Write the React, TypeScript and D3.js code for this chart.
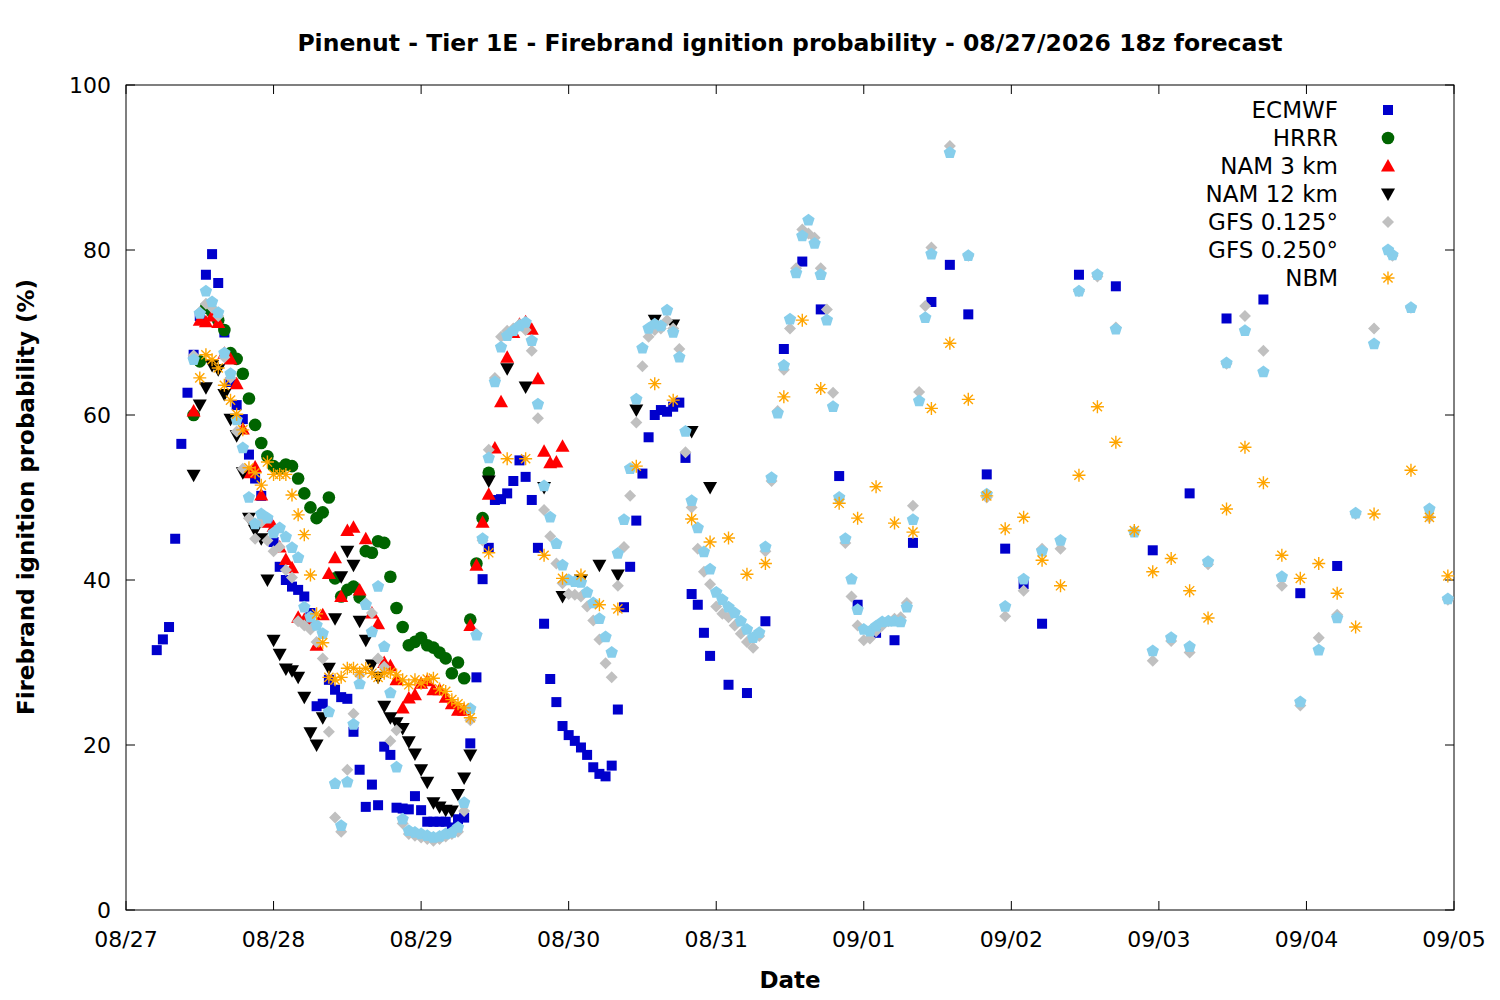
import React from "react";
import * as d3 from "d3";

// hours since 08/27 00z
const dayLabels = ["08/27","08/28","08/29","08/30","08/31","09/01","09/02","09/03","09/04","09/05"];
const yTicks = [0,20,40,60,80,100];

const ecmwfHourly = [31.5,32.8,34.3,45,56.5,62.7,67.3,72,77,79.5,76,70,64,61.2,59.5,55.2,52.3,50.2,47,44.6,41.6,40,39.2,38.8,38,36,24.7,25,27.9,26.7,25.8,25.6,21.6,17,12.5,15.2,12.7,19.8,18.8,12.4,12.3,12.2,13.8,12.1,10.7,10.7,10.7,10.7,10,11,11.2,20.2,28.2,40.1,43.9,49.7,49.8,50.5,52,54.5,52.5,49.7,43.9,34.7,28,25.2,22.3,21.2,20.5,19.7,18.8,17.3,16.5,16.2,17.5,24.3,36.7,41.6,47.2,52.9,57.3,60,60.6,60.4,61,61.5,54.8,38.3,37,33.6,30.8];
const ecmwf3h = [27.3,26.3,35,68,78.6,72.8,52.6,37,33.6,32.7,44.5,73.7,78.2,72.2,52.8,43.8,39.5,34.7];
const ecmwf6h = [77,75.6,43.6,50.5,71.7,74,38.4,41.7];

const hrrrHourly = [60,66.5,73,72.5,71.5,70.3,67.5,66.8,65,62,58.8,56.6,55,53.8,53.5,54,53.8,52.3,50.5,48.8,47.5,48.2,50,40.2,38,38.8,39.2,37.9,43.5,43.3,44.7,44.5,40.4,36.6,34.3,32.1,32.5,33,32.1,31.8,31.2,30.5,28.7,30,28.1,35.2,42,47.5,53];

const nam3Hourly = [60.5,71.5,71.3,72,71.2,67.5,66.8,63.8,58.3,53,53.7,50.3,47,46.5,44,42.5,41.5,35.5,35.2,34.6,32.1,35.8,40.8,42.7,38,46,46.4,38.8,45,36,34.7,30,29.6,27.9,24.5,25.7,26.1,27.5,27.8,26.7,26.7,25.8,25,24.2,24.2,34.5,41.8,47,50.4,56,61.6,67,70,71,71.3,70.4,64.4,55.6,54.2,54.3,56.2];

const nam12Hourly = [52.7,61.2,63.3,66,65.5,62.5,59.5,57.5,53,47.5,46,45,40,32.7,31,29.2,29,28.2,25.8,21.5,20,23.3,29.3,35.3,40.4,43.5,41.8,35,32.7,29.7,28.2,24.7,23.3,22.7,22,20.4,18.9,17,15.5,13,12.5,12.1,12,14,16,18.8];
const nam12_3h = [52,65.6,63.4,51.2,38,40,41.8,40.6,60.6,71.5,70.9,58,51.2];

const gfs125Hourly = [67.2,72.5,73.5,73,72,67,64.5,58,53.5,47.5,45,47,44.8,43.5,44,41.2,40.3,35,34.5,34,32.5,30.5,21.6,11.2,9.5,17,23.8,28.5,37.2,36,30.5,29.5,20.5,21.8,10.5,9.2,9,8.8,8.6,8.4,8.6,8.9,9.2,9.5,12,23,33.5,44.8,55.8,64.5,69.5,70.2,70.5,71,70.3,67.8,59.6,48.5,45.3,42,39.6,38.3,38.2,38,36.8,35.1,32.8,29.9,28.2,39.3,44,50.2,59.1,65.9,69.5,70.3,70.5,71.5,70.5,68,55.5,48.8,43.8,41,39.5,36.8,35.9,35.5,34.5,33.5,32.5,31.8,33.2,43.5,52,60.5,65.5,70.5,77.8,82.5,82,81.5,77.8,72.8,62.7,49.8,44.5,38,34.5,32.7,32.9,33.8,34.5,35,35.3,35.5,37.2,49,62.8,73.2];
const gfs125_3h = [80.3,92.6,79.3,50,35.6,38.7,43.8,43.8,75,76.8,70.6,45.9,30.2,32.6,31.2,41.9,66.2,72,67.8,39.3,24.8,33,35.8,48,70.5,79.3,73,47.6,37.6];

const gfs250Hourly = [66.7,72.3,75,73.7,72.4,67.5,65,59.4,56,50,46.8,48,47.5,45.7,46.3,45.2,43.9,42.7,36.7,35.5,34.5,33.5,24,15.3,10.2,15.5,22.5,27.4,37,33.7,39.2,31.9,26.3,17.3,11,9.6,9.4,9.2,9,8.8,8.9,9.2,9.4,10,13,24.4,33.3,45,54.8,64,68.2,69.6,70.2,70.8,71.2,69,61.3,51.4,47.6,44.4,41.8,40,39.8,39.7,38.5,37.2,35.3,33.1,31.2,43.2,47.3,53.5,61.9,68.1,70.5,71,70.8,72.7,70,67,58,49.6,46.3,43.4,41.3,38.5,37.6,36.7,36,35,34,33,33.6,44,52.4,60.2,66,71.6,77.2,81.7,83.6,80.8,77,71.5,61,50,45,40.1,36.4,34,33.8,34.4,34.9,35,35,34.9,36.7,47.3,61.7,71.8];
const gfs250_3h = [79.5,91.8,79.3,50.4,36.8,40.1,43.5,44.8,75,77,70.4,45.8,31.4,33,31.9,42.2,66.3,70.2,65.2,40.4,25.2,31.5,35.4,48.1,68.6,79.4,73,48.6,37.7];

const nbmHourly = [64.5,67.3,66.7,65.7,63.6,61.8,60.1,58.2,53.6,53,51.5,54.3,52.8,52.8,52.8,50.3,47.9,45.5,40.6,35.9,32.4,28.2,27.9,28.2,29.3,29.3,28.8,29.3,28.7,28.2,28.7,28.8,28.5,27.9,27.3,27.9,27.5,28,28.1,26.8,26.5,25.5,25,24.5,23.3];
const nbm3h = [43.3,54.7,54.7,43,40.2,40.6,37,36.5,53.8,63.8,61.8,47.4,44.6,45.1,40.7,42,62.2,71.5,63.2,49.3,47.5,51.3,46.9,45.8,60.8,68.7,61.9,50.2,46.2,47.6,42.4,39.3,52.7,61,56.7,46,41,42.6,38.7,35.4,48.6,56.1,51.8,43,40.2,42,38.4,34.3,48];
const nbm3hLate = [53.3,47.6,40.5];

type Seg = { start: number; step: number; values: number[] };
const pts = (segs: Seg[]) =>
  segs.flatMap(s => s.values.map((v, i) => ({ h: s.start + i * s.step, v })));

const series = [
  { name: "ECMWF", color: "#0000cc", shape: "square", data: pts([{ start: 5, step: 1, values: ecmwfHourly }, { start: 98, step: 3, values: ecmwf3h }, { start: 155, step: 6, values: ecmwf6h }]) },
  { name: "HRRR", color: "#006400", shape: "circle", data: pts([{ start: 11, step: 1, values: hrrrHourly }]) },
  { name: "NAM 3 km", color: "#ff0000", shape: "up", data: pts([{ start: 11, step: 1, values: nam3Hourly }]) },
  { name: "NAM 12 km", color: "#000000", shape: "down", data: pts([{ start: 11, step: 1, values: nam12Hourly }, { start: 59, step: 3, values: nam12_3h }]) },
  { name: "GFS 0.125°", color: "#c0c0c0", shape: "diamond", data: pts([{ start: 11, step: 1, values: gfs125Hourly }, { start: 131, step: 3, values: gfs125_3h }]) },
  { name: "GFS 0.250°", color: "#87ceeb", shape: "pentagon", data: pts([{ start: 11, step: 1, values: gfs250Hourly }, { start: 131, step: 3, values: gfs250_3h }]) },
  { name: "NBM", color: "#ffa500", shape: "star", data: pts([{ start: 12, step: 1, values: nbmHourly }, { start: 59, step: 3, values: nbm3h }, { start: 209, step: 3, values: nbm3hLate }]) },
];

const W = 1500, H = 1000;
const M = { l: 126, r: 1454, t: 85, b: 910 };

function Marker({ shape, color, x, y }: { shape: string; color: string; x: number; y: number }) {
  switch (shape) {
    case "square": return <rect x={x - 5} y={y - 5} width={10} height={10} fill={color} />;
    case "circle": return <circle cx={x} cy={y} r={6.3} fill={color} />;
    case "up": return <path d={`M${x},${y - 7}L${x + 7},${y + 5.5}L${x - 7},${y + 5.5}Z`} fill={color} />;
    case "down": return <path d={`M${x},${y + 7}L${x + 7},${y - 5.5}L${x - 7},${y - 5.5}Z`} fill={color} />;
    case "diamond": return <path d={`M${x},${y - 6}L${x + 6},${y}L${x},${y + 6}L${x - 6},${y}Z`} fill={color} />;
    case "pentagon": {
      const p = d3.range(5).map(i => {
        const a = -Math.PI / 2 + i * 2 * Math.PI / 5;
        return `${x + 6.5 * Math.cos(a)},${y + 6.5 * Math.sin(a)}`;
      }).join(" ");
      return <polygon points={p} fill={color} />;
    }
    default: {
      const r = 6.5;
      const lines = [0, 45, 90, 135].map(a => {
        const rad = a * Math.PI / 180;
        return `M${x - r * Math.cos(rad)},${y - r * Math.sin(rad)}L${x + r * Math.cos(rad)},${y + r * Math.sin(rad)}`;
      }).join("");
      return <path d={lines} stroke={color} strokeWidth={1.4} fill="none" />;
    }
  }
}

export default function App() {
  const x = d3.scaleLinear().domain([0, 216]).range([M.l, M.r]);
  const y = d3.scaleLinear().domain([0, 100]).range([M.b, M.t]);
  const font = "'DejaVu Sans', sans-serif";
  return (
    <svg width={W} height={H} style={{ position: "absolute", left: 0, top: 0, background: "#fff" }} fontFamily={font}>
      <rect width={W} height={H} fill="#fff" />
      <text x={790} y={51} textAnchor="middle" fontSize={23.5} fontWeight="bold">
        Pinenut - Tier 1E - Firebrand ignition probability - 08/27/2026 18z forecast
      </text>
      {yTicks.map(t => (
        <g key={t}>
          <line x1={M.l} x2={M.l + 9} y1={y(t)} y2={y(t)} stroke="#000" />
          <line x1={M.r} x2={M.r - 9} y1={y(t)} y2={y(t)} stroke="#000" />
          <text x={111} y={y(t) + 8} textAnchor="end" fontSize={22}>{t}</text>
        </g>
      ))}
      {dayLabels.map((lab, i) => (
        <g key={lab}>
          <line x1={x(i * 24)} x2={x(i * 24)} y1={M.b} y2={M.b - 9} stroke="#000" />
          <line x1={x(i * 24)} x2={x(i * 24)} y1={M.t} y2={M.t + 9} stroke="#000" />
          <text x={x(i * 24)} y={947} textAnchor="middle" fontSize={22}>{lab}</text>
        </g>
      ))}
      <rect x={M.l} y={M.t} width={M.r - M.l} height={M.b - M.t} fill="none" stroke="#000" />
      <text x={790} y={988} textAnchor="middle" fontSize={23} fontWeight="bold">Date</text>
      <text transform="translate(34,497) rotate(-90)" textAnchor="middle" fontSize={23} fontWeight="bold">
        Firebrand ignition probability (%)
      </text>
      {series.map(s => (
        <g key={s.name}>
          {s.data.map((d, i) => <Marker key={i} shape={s.shape} color={s.color} x={x(d.h)} y={y(d.v)} />)}
        </g>
      ))}
      {series.map((s, i) => (
        <g key={"leg" + s.name}>
          <text x={1338} y={118 + i * 28} textAnchor="end" fontSize={23}>{s.name}</text>
          <Marker shape={s.shape} color={s.color} x={1388} y={110 + i * 28} />
        </g>
      ))}
    </svg>
  );
}
